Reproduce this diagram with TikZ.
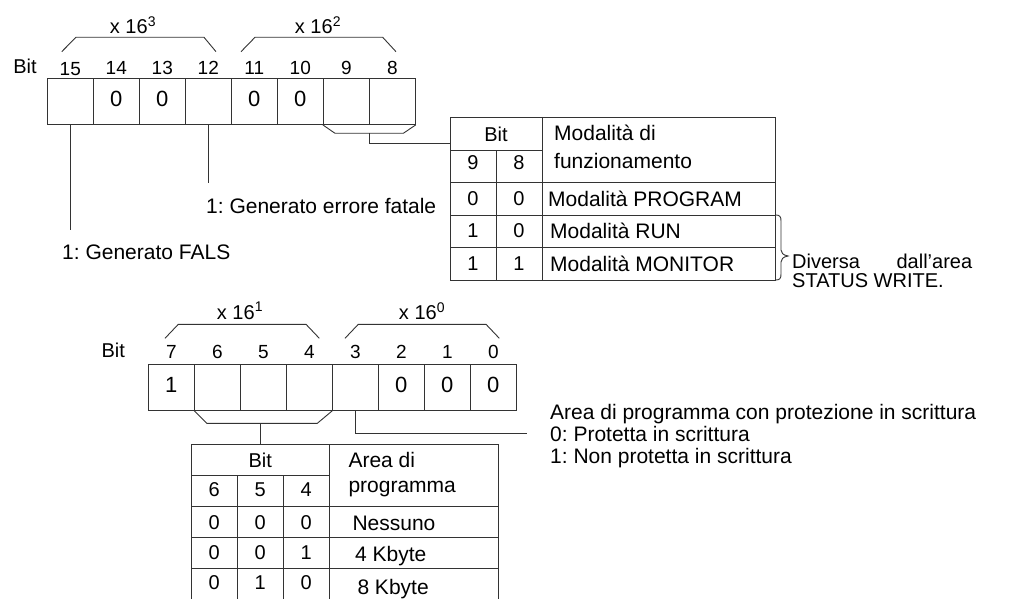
\documentclass[tikz,border=0pt]{standalone}
\usepackage{fontspec}
\setmainfont{Liberation Sans}
\frenchspacing
\begin{document}
\begin{tikzpicture}[x=1pt,y=-1pt,
  ln/.style={line width=0.9pt, draw=black!80},
  cell/.style={ln, draw, minimum width=46pt, minimum height=45.5pt, inner sep=0pt,
    text height=16pt, text depth=6pt, font=\fontsize{22}{22}\selectfont},
  bitn/.style={inner sep=0pt, font=\fontsize{19}{19}\selectfont},
  bitw/.style={inner sep=0pt, font=\fontsize{20}{20}\selectfont},
  tnum/.style={inner sep=0pt, font=\fontsize{20}{20}\selectfont},
  txt/.style={inner sep=0pt, anchor=west, font=\fontsize{21}{22}\selectfont},
  mtxt/.style={inner sep=0pt, anchor=west, align=left},
  tbl/.style={ln, draw, inner sep=0pt},
]
\useasboundingbox (0,0) rectangle (1012,599);
\clip (0,0) rectangle (1012,599);

% ---------- top register (bits 15..8) ----------
\node[bitw] (bitA) at (25,66.7) {Bit};
\foreach \b/\v [count=\i from 0] in {15/,14/0,13/0,12/,11/0,10/0,9/,8/} {
  \node[cell] (t\b) at (70.3+46*\i,101.7) {\v};
}
\foreach \b [count=\i from 0] in {14,13,12,11,10,9,8} {
  \node[bitn] (tl\b) at (116.3+46*\i,67.5) {\b};
}
\node[bitn] (tl15) at (70.3,69.5) {15};

% brackets x16^3, x16^2
\draw[ln] (61.7,51.7) -- (76,37.3) -- (204,37.3) -- (216,51.7);
\draw[ln] (241,51.7) -- (255,37.3) -- (382.7,37.3) -- (396,51.7);
\node[bitw] (h3) at (133,25) {x 16\textsuperscript{3}};
\node[bitw] (h2) at (318,25) {x 16\textsuperscript{2}};

% connectors and labels
\coordinate (c15) at (70.3,230);
\draw[ln] (t15.south) -- (c15);
\node[txt] (lfals) at (62,252) {1: Generato FALS};
\coordinate (c12) at (208.3,183.3);
\draw[ln] (t12.south) -- (c12);
\node[txt] (lfat) at (206,206) {1: Generato errore fatale};

% bracket under bits 9,8
\coordinate (b98) at (369.3,133.3);
\draw[ln] (t9.south west) -- (335,133.3) -- (403.3,133.3) -- (t8.south east);

% ---------- table 1 ----------
\node[tbl, minimum width=325pt, minimum height=163pt] (tA) at (612.5,198.5) {};
\coordinate (tAin) at (450,143.3);
\draw[ln] (b98) |- (tAin);
\draw[ln] (450,150.7) -- (542,150.7);
\draw[ln] (496,150.7) -- (496,280);
\draw[ln] (542,117) -- (542,280);
\draw[ln] (450,182.3) -- (775,182.3);
\draw[ln] (450,215) -- (775,215);
\draw[ln] (450,247.5) -- (775,247.5);
\node[tnum] (tAbit) at (496,134) {Bit};
\node[tnum] (tA9) at (473,163) {9};
\node[tnum] (tA8) at (519,163) {8};
\node[tnum] (a1) at (473,198.5) {0};
\node[tnum] (a2) at (519,198.5) {0};
\node[tnum] (a3) at (473,231) {1};
\node[tnum] (a4) at (519,231) {0};
\node[tnum] (a5) at (473,263.5) {1};
\node[tnum] (a6) at (519,263.5) {1};
\node[mtxt, font=\fontsize{21}{28}\selectfont] (tAh) at (554,146.5) {Modalità di\\funzionamento};
\node[txt] (m1) at (548,198.5) {Modalità PROGRAM};
\node[txt] (m2) at (550,231) {Modalità RUN};
\node[txt] (m3) at (550,263.5) {Modalità MONITOR};

% brace
\draw[ln] (776,215) .. controls (780,215) and (781,217) .. (781,221)
  -- (781,250) .. controls (781,253) and (783,255) .. (788,256)
  .. controls (783,257) and (781,259) .. (781,262)
  -- (781,274) .. controls (781,278) and (780,280) .. (776,280);
\node[mtxt, font=\fontsize{20}{19.5}\selectfont] (dv) at (792,271)
  {\makebox[180pt][s]{Diversa dall'area}\\STATUS WRITE.};

% ---------- bottom register (bits 7..0) ----------
\node[bitw] (bitB) at (113.3,350) {Bit};
\foreach \b/\v [count=\i from 0] in {7/1,6/,5/,4/,3/,2/0,1/0,0/0} {
  \node[cell] (b\b) at (171.3+46*\i,387.2) {\v};
  \node[bitn] (bl\b) at (171.3+46*\i,352) {\b};
}
\draw[ln] (165,338.3) -- (178.3,324.3) -- (306,324.3) -- (319.3,338.3);
\draw[ln] (345,338.3) -- (358.3,324.3) -- (486,324.3) -- (499.3,338.3);
\node[bitw] (h1) at (240,311) {x 16\textsuperscript{1}};
\node[bitw] (h0) at (422,311) {x 16\textsuperscript{0}};

% bracket under bits 6..4
\coordinate (bm) at (260.2,423.3);
\draw[ln] (b6.south west) -- (206.7,423.3) -- (317.3,423.3) -- (b4.south east);

% connector from bit 3
\coordinate (c3e) at (526.7,433.3);
\draw[ln] (b3.south) |- (c3e);
\node[mtxt, font=\fontsize{21}{22}\selectfont] (prot) at (550,436)
  {Area di programma con protezione in scrittura\\0: Protetta in scrittura\\1: Non protetta in scrittura};

% ---------- table 2 ----------
\node[tbl, minimum width=307.3pt, minimum height=175.7pt] (tB) at (344.65,532.15) {};
\draw[ln] (bm) -- (bm |- tB.north);
\draw[ln] (191,475) -- (329.3,475);
\draw[ln] (237.3,475) -- (237.3,620);
\draw[ln] (283.3,475) -- (283.3,620);
\draw[ln] (329.3,444.3) -- (329.3,620);
\draw[ln] (191,506.7) -- (498.3,506.7);
\draw[ln] (191,537.7) -- (498.3,537.7);
\draw[ln] (191,568.3) -- (498.3,568.3);
\node[tnum] (tBbit) at (260.2,460.5) {Bit};
\node[tnum] (tB6) at (214.2,490) {6};
\node[tnum] (tB5) at (260.3,490) {5};
\node[tnum] (tB4) at (306.3,490) {4};
\node[tnum] (r11) at (214.2,522.5) {0};
\node[tnum] (r12) at (260.3,522.5) {0};
\node[tnum] (r13) at (306.3,522.5) {0};
\node[tnum] (r21) at (214.2,553) {0};
\node[tnum] (r22) at (260.3,553) {0};
\node[tnum] (r23) at (306.3,553) {1};
\node[tnum] (r31) at (214.2,582.5) {0};
\node[tnum] (r32) at (260.3,582.5) {1};
\node[tnum] (r33) at (306.3,582.5) {0};
\node[mtxt, font=\fontsize{21}{25}\selectfont] (tBh) at (348.3,474.5) {Area di\\programma};
\node[txt] (n1) at (352.3,523.3) {Nessuno};
\node[txt] (n2) at (355,555.7) {4 Kbyte};
\node[txt] (n3) at (357.3,589) {8 Kbyte};
\end{tikzpicture}
\end{document}
